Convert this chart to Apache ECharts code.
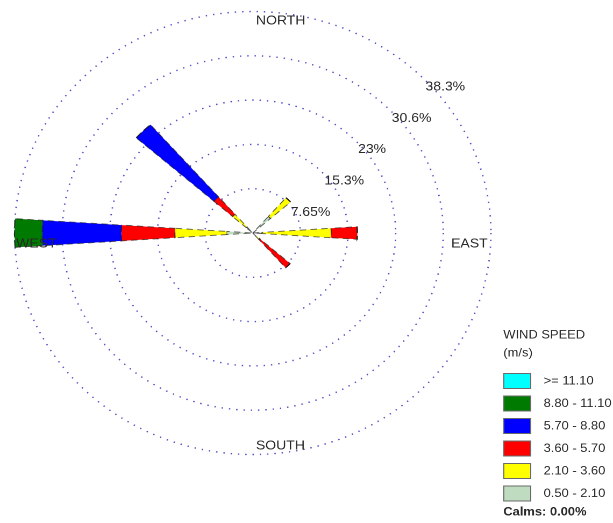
<!DOCTYPE html>
<html>
<head>
<meta charset="utf-8">
<title>Wind Rose</title>
<script src="https://cdn.jsdelivr.net/npm/echarts@6/dist/echarts.min.js"></script>
<style>
  html, body { margin: 0; padding: 0; background: #fff; overflow: hidden; }
  /* the rose is drawn on a narrower canvas and widened to the page */
  #chart { width: 570px; height: 523px; transform: scaleX(1.0754); transform-origin: 0 0; }
</style>
</head>
<body>
<div id="chart"></div>
<script>
// 16 compass sectors, clockwise from north
const directions = ['N', 'NNE', 'NE', 'ENE', 'E', 'ESE', 'SE', 'SSE',
                    'S', 'SSW', 'SW', 'WSW', 'W', 'WNW', 'NW', 'NNW'];

// frequency (%) per sector for each wind-speed class (m/s)
const speed_050_210 = [0, 0, 3.8, 0, 1.5, 0, 0.7, 0, 0, 0, 0, 0, 4.2, 0, 1.4, 0];
const speed_210_360 = [0, 0, 4.3, 0, 11.1, 0, 0.8, 0, 0, 0, 0, 0, 8.3, 0, 2.9, 0];
const speed_360_570 = [0, 0, 0, 0, 4.2, 0, 6.5, 0, 0, 0, 0, 0, 8.6, 0, 4.0, 0];
const speed_570_880 = [0, 0, 0, 0, 0, 0, 0, 0, 0, 0, 0, 0, 12.7, 0, 16.6, 0];
const speed_880_1110 = [0, 0, 0, 0, 0, 0, 0, 0, 0, 0, 0, 0, 4.45, 0, 0, 0];
const speed_ge_1110 = [0, 0, 0, 0, 0, 0, 0, 0, 0, 0, 0, 0, 0, 0, 0, 0];

const classNames = ['0.50 - 2.10', '2.10 - 3.60', '3.60 - 5.70', '5.70 - 8.80', '8.80 - 11.10', '>= 11.10'];
const classValues = [speed_050_210, speed_210_360, speed_360_570, speed_570_880, speed_880_1110, speed_ge_1110];
const classColors = ['#c0dcc0', '#ffff00', '#ff0000', '#0000ff', '#007a00', '#00ffff'];

// ring scale
const ringMax = 38.25;
const ringStep = 7.65;
const ringLabels = ['7.65%', '15.3%', '23%', '30.6%', '38.3%'];

const calmsText = 'Calms: 0.00%';

const chart = echarts.init(document.getElementById('chart'), null, { renderer: 'canvas', devicePixelRatio: 2 });

const series = classNames.map((name, i) => ({
  name: name,
  type: 'bar',
  coordinateSystem: 'polar',
  polarIndex: 0,
  stack: 'rose',
  barWidth: '33%',
  data: classValues[i],
  itemStyle: {
    color: classColors[i],
    borderColor: 'rgba(30,30,30,0.7)',
    borderWidth: 0.9,
    borderType: [6, 4]
  },
  emphasis: { disabled: true },
  animation: false
}));

const textColor = '#2a2a2a';
const compassFont = '13px "Liberation Sans", Arial, sans-serif';

chart.setOption({
  backgroundColor: '#ffffff',
  animation: false,
  polar: [
    { center: [235, 233], radius: 221.5 },
    { center: [235, 233], radius: 221.5 }
  ],
  angleAxis: [
    {
      polarIndex: 0,
      type: 'category',
      data: directions,
      startAngle: 101.25,
      clockwise: true,
      axisLine: { show: false },
      axisTick: { show: false },
      axisLabel: { show: false },
      splitLine: { show: false }
    },
    {
      polarIndex: 1,
      type: 'value',
      startAngle: 45,
      min: 0,
      max: 360,
      show: false
    }
  ],
  radiusAxis: [
    {
      polarIndex: 0,
      type: 'value',
      min: 0,
      max: ringMax,
      interval: ringStep,
      axisLine: { show: false },
      axisTick: { show: false },
      axisLabel: { show: false },
      splitLine: {
        show: true,
        lineStyle: { color: '#5252c6', width: 1.4, type: [1.3, 5.5] }
      }
    },
    {
      polarIndex: 1,
      type: 'value',
      min: 0,
      max: ringMax,
      interval: ringStep,
      axisLine: { show: false },
      axisTick: { show: false },
      splitLine: { show: false },
      axisLabel: {
        show: true,
        showMinLabel: false,
        margin: 0,
        align: 'left',
        verticalAlign: 'top',
        lineHeight: 21,
        fontSize: 13,
        fontFamily: '"Liberation Sans", Arial, sans-serif',
        color: textColor,
        formatter: (v, i) => ringLabels[i - 1] ? '{r|' + ringLabels[i - 1] + '}' : '',
        rich: {
          r: {
            padding: [0, 0, 0, 4],
            lineHeight: 21,
            fontSize: 13,
            fontFamily: '"Liberation Sans", Arial, sans-serif',
            color: textColor
          }
        }
      }
    }
  ],
  legend: {
    orient: 'vertical',
    left: 468,
    top: 373,
    padding: 0,
    itemWidth: 25,
    itemHeight: 15,
    itemGap: 6.5,
    icon: 'rect',
    selectedMode: false,
    data: classNames.slice().reverse(),
    itemStyle: { borderColor: '#6a6a6a', borderWidth: 1, borderType: 'solid' },
    textStyle: {
      fontSize: 12,
      fontFamily: '"Liberation Sans", Arial, sans-serif',
      color: textColor,
      padding: [0, 0, 0, 7]
    }
  },
  graphic: [
    { type: 'text', z: 100, x: 238, y: 21, style: { text: 'NORTH', font: compassFont, fill: textColor, textAlign: 'left', textVerticalAlign: 'middle' } },
    { type: 'text', z: 100, x: 238, y: 446, style: { text: 'SOUTH', font: compassFont, fill: textColor, textAlign: 'left', textVerticalAlign: 'middle' } },
    { type: 'text', z: 100, x: 419.5, y: 244, style: { text: 'EAST', font: compassFont, fill: textColor, textAlign: 'left', textVerticalAlign: 'middle' } },
    { type: 'text', z: 100, x: 15, y: 244, style: { text: 'WEST', font: compassFont, fill: textColor, textAlign: 'left', textVerticalAlign: 'middle' } },
    { type: 'text', z: 100, x: 468, y: 335, style: { text: 'WIND SPEED', font: '12px "Liberation Sans", Arial, sans-serif', fill: textColor, textAlign: 'left', textVerticalAlign: 'middle' } },
    { type: 'text', z: 100, x: 468, y: 353, style: { text: '(m/s)', font: '12px "Liberation Sans", Arial, sans-serif', fill: textColor, textAlign: 'left', textVerticalAlign: 'middle' } },
    { type: 'text', z: 100, x: 468, y: 512, style: { text: calmsText, font: 'bold 12px "Liberation Sans", Arial, sans-serif', fill: textColor, textAlign: 'left', textVerticalAlign: 'middle' } }
  ],
  series: series
});
</script>
</body>
</html>
